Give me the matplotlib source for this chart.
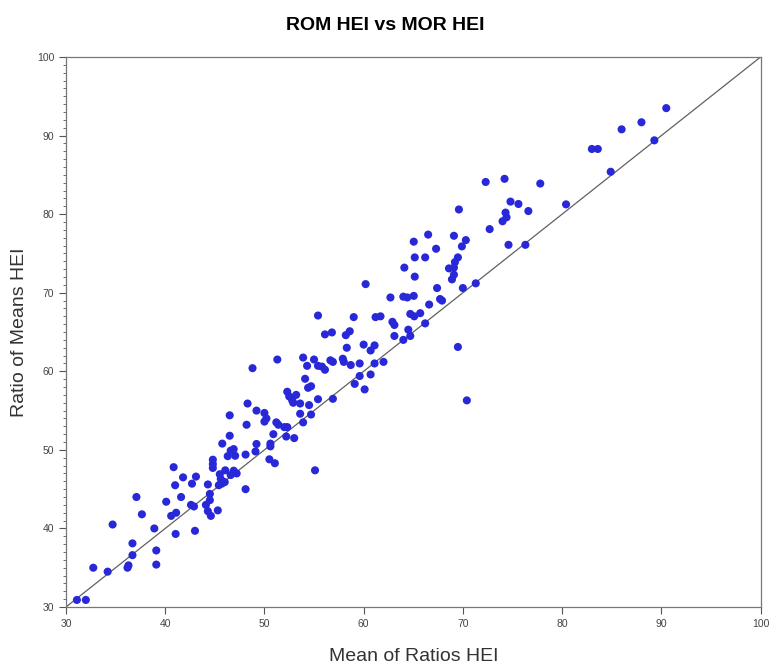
import numpy as np
import matplotlib.pyplot as plt
from matplotlib.ticker import MultipleLocator

# valeurs
mor_hei = [
    31.1, 32.0, 32.75, 34.2, 34.7, 36.2, 36.3, 36.7, 36.7, 37.1, 37.65, 38.9, 39.1, 39.1,
    40.1, 40.85, 41.0, 40.6, 41.1, 41.05, 41.6, 41.8, 42.7, 43.1, 42.6, 42.9, 43.0,
    44.3, 44.1, 44.5, 44.5, 44.3, 44.6, 45.3, 44.8, 44.8, 44.8, 45.5, 45.6, 45.7, 45.4,
    45.75, 46.05, 46.0, 46.5, 46.5, 46.3, 46.6, 46.9, 47.05, 46.6, 46.9, 47.2,
    48.1, 48.2, 48.1, 48.3, 49.2, 49.2, 49.1,
    48.8, 51.3, 50.0, 50.2, 50.0, 51.2, 51.4, 52.0, 52.3, 50.9, 50.6, 50.6, 52.2, 53.0,
    50.5, 51.05, 55.1, 52.3, 52.5, 52.8, 53.2, 52.9, 53.6, 54.5, 53.6, 54.7, 53.9,
    55.4, 56.9, 54.1, 54.4, 54.7, 53.9, 54.3, 55.0, 55.4, 55.8, 56.1, 55.4, 56.1, 56.8,
    56.65, 56.9, 57.9, 58.0, 58.7, 58.3, 58.2, 58.6, 59.0, 60.0, 60.7, 61.1, 59.6, 61.1,
    62.0, 59.6, 59.1, 60.1, 60.7, 60.2, 61.2, 61.7, 62.7, 62.9, 63.1, 63.1,
    64.0, 64.5, 64.7, 64.0, 64.4, 65.05, 64.1, 65.05, 65.15, 65.15, 66.2, 66.5, 67.3,
    64.7, 65.1, 65.7, 66.2, 66.6, 67.4, 67.7, 67.9, 69.1, 69.6, 69.9, 69.5, 70.3,
    69.2, 69.1, 68.6, 69.1, 68.9, 70.0, 71.3, 69.5, 70.4,
    72.3, 74.2, 77.8, 72.7, 74.8, 75.6, 76.6, 74.3, 74.4, 74.0, 74.6, 76.3, 80.4,
    83.0, 83.6, 84.9, 86.0, 88.0, 89.3, 90.5,
]
rom_hei = [
    30.9, 30.9, 35.0, 34.5, 40.5, 35.0, 35.3, 36.6, 38.1, 44.0, 41.8, 40.0, 37.2, 35.4,
    43.4, 47.8, 45.5, 41.6, 42.0, 39.3, 44.0, 46.5, 45.7, 46.6, 43.0, 42.8, 39.7,
    45.6, 43.0, 44.4, 43.6, 42.2, 41.6, 42.3, 48.75, 48.2, 47.7, 46.9, 46.3, 45.7, 45.5,
    50.8, 47.4, 45.9, 54.4, 51.8, 49.2, 49.9, 50.1, 49.25, 46.8, 47.35, 47.0,
    45.0, 53.2, 49.4, 55.9, 55.0, 50.75, 49.8,
    60.4, 61.5, 54.7, 54.0, 53.6, 53.5, 53.2, 52.9, 52.9, 52.0, 50.8, 50.45, 51.7, 51.5,
    48.8, 48.3, 47.4, 57.4, 56.8, 56.3, 57.0, 56.0, 55.9, 55.7, 54.6, 54.5, 53.5,
    56.45, 56.5, 59.05, 57.9, 58.1, 61.75, 60.7, 61.5, 60.7, 60.6, 60.2, 67.1, 64.7, 64.95,
    61.4, 61.2, 61.6, 61.2, 60.8, 63.0, 64.6, 65.1, 66.9, 63.4, 62.65, 63.3, 61.0, 61.0,
    61.2, 59.4, 58.4, 57.7, 59.6, 71.1, 66.9, 67.0, 69.4, 66.3, 65.9, 64.5,
    64.0, 65.3, 64.5, 69.5, 69.4, 69.6, 73.2, 76.5, 74.5, 72.05, 74.5, 77.4, 75.6,
    67.3, 67.0, 67.4, 66.1, 68.5, 70.6, 69.2, 69.0, 77.25, 80.6, 75.9, 74.5, 76.7,
    73.9, 73.2, 73.1, 72.3, 71.7, 70.6, 71.2, 63.1, 56.3,
    84.1, 84.5, 83.9, 78.1, 81.6, 81.3, 80.4, 80.2, 79.6, 79.1, 76.1, 76.1, 81.25,
    88.3, 88.3, 85.4, 90.8, 91.7, 89.4, 93.5,
]
diag = [30, 100]

GRIS = "#555555"

fig = plt.figure(figsize=(7.7, 6.65), dpi=100, facecolor="white")
ax = fig.add_axes([0.0857, 0.0872, 0.902, 0.827])

ax.plot(diag, diag, color="#606060", linewidth=0.9, zorder=1)
ax.scatter(mor_hei, rom_hei, s=34, color="#2828d8", edgecolors="none", zorder=2)

ax.set_xlim(30, 100)
ax.set_ylim(30, 100)
ax.xaxis.set_major_locator(MultipleLocator(10))
ax.yaxis.set_major_locator(MultipleLocator(10))
ax.yaxis.set_minor_locator(MultipleLocator(1))
ax.tick_params(axis="both", which="major", direction="out", length=5, width=0.8,
               color=GRIS, labelcolor="#444444", labelsize=7.5)
ax.tick_params(axis="y", which="minor", direction="out", length=2.5, width=0.6, color=GRIS)
for lab in ax.get_xticklabels() + ax.get_yticklabels():
    lab.set_family("Liberation Sans")
for s in ax.spines.values():
    s.set_color("#777777")
    s.set_linewidth(0.9)

ax.set_xlabel("Mean of Ratios HEI", fontsize=14, color="#333333", labelpad=14,
              family="Liberation Sans")
ax.set_ylabel("Ratio of Means HEI", fontsize=14, color="#333333", labelpad=6,
              family="Liberation Sans")
fig.suptitle("ROM HEI vs MOR HEI", fontsize=14, fontweight="bold", y=0.975,
             family="Liberation Sans")

plt.savefig("out.png", dpi=100)
